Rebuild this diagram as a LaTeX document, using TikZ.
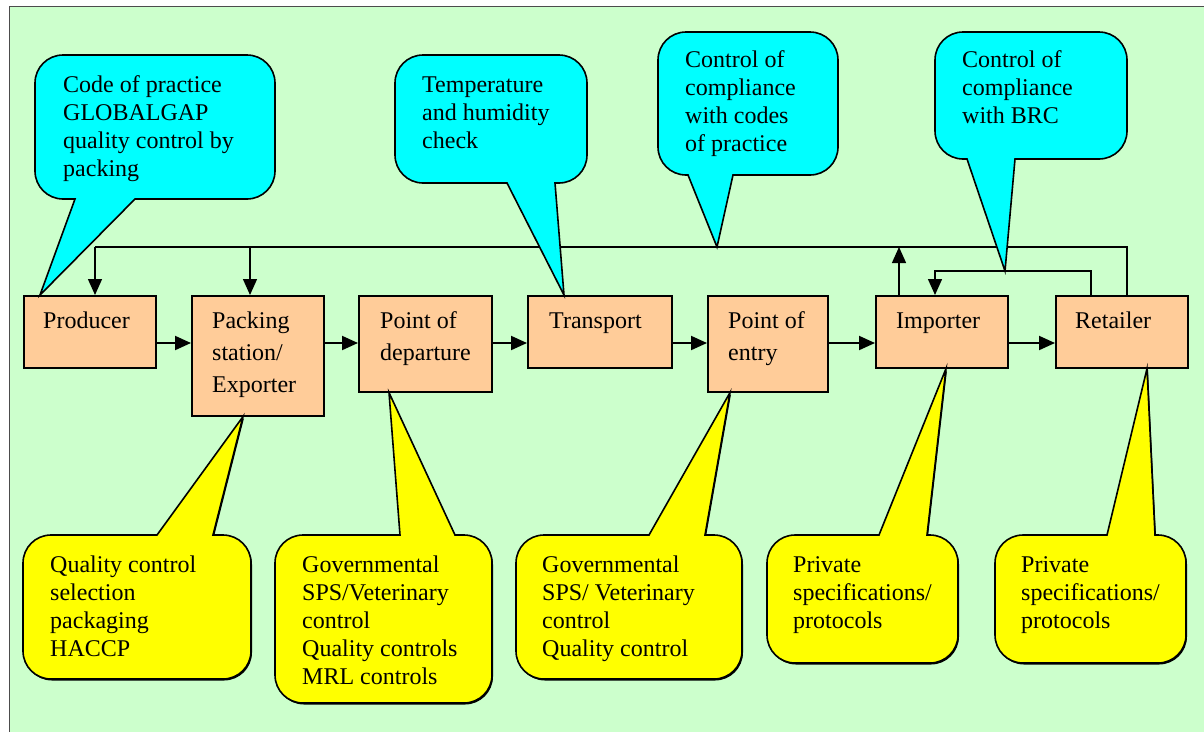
\documentclass[tikz,border=0pt]{standalone}
\usepackage{fontspec}
\setmainfont{Liberation Serif}
\usetikzlibrary{arrows.meta, shadows}
\definecolor{bggreen}{HTML}{CCFFCC}
\definecolor{boxorange}{HTML}{FFCC99}
\definecolor{callcyan}{HTML}{00FFFF}
\definecolor{callyellow}{HTML}{FFFF00}

% text lines, baseline on the first line
\newcommand{\lines}[1]{\begin{tabular}[t]{@{}l@{}}#1\end{tabular}}
% callout with the pointer on the lower edge: left, top, right, bottom, base from, base to, tip
\newcommand{\cyancallout}[7]{%
  \draw[cyancall] (#5,#4) -- #7 -- (#6,#4) -- ({#3-28},#4)
    arc[start angle=90, end angle=0, radius=28] -- (#3,{#2+28})
    arc[start angle=0, end angle=-90, radius=28] -- ({#1+28},#2)
    arc[start angle=-90, end angle=-180, radius=28] -- (#1,{#4-28})
    arc[start angle=180, end angle=90, radius=28] -- cycle;}
% callout with the pointer on the upper edge
\newcommand{\yellowcallout}[7]{%
  \draw[yellowcall] (#6,#2) -- #7 -- (#5,#2) -- ({#1+28},#2)
    arc[start angle=-90, end angle=-180, radius=28] -- (#1,{#4-28})
    arc[start angle=180, end angle=90, radius=28] -- ({#3-28},#4)
    arc[start angle=90, end angle=0, radius=28] -- (#3,{#2+28})
    arc[start angle=0, end angle=-90, radius=28] -- cycle;}

\begin{document}
\begin{tikzpicture}[x=1pt, y=-1pt, >={Triangle[length=16pt, width=14pt]},
    stage/.style={draw, fill=boxorange, line width=1.6pt, inner sep=0pt, anchor=north west},
    stagetext/.style={anchor=base west, inner sep=0pt, font=\fontsize{24}{32}\selectfont},
    calltext/.style={anchor=base west, inner sep=0pt, font=\fontsize{24}{28}\selectfont},
    flow/.style={->, line width=2pt},
    feedback/.style={line width=1.4pt},
    cyancall/.style={draw, fill=callcyan, line width=1.6pt},
    yellowcall/.style={draw, fill=callyellow, line width=1.6pt,
      drop shadow={shadow xshift=1pt, shadow yshift=-1.5pt, opacity=1, fill=black}}]

    \useasboundingbox (0,0) rectangle (1204,732);
    \fill[bggreen] (9,6) rectangle (1204,732);
    \draw[line width=1pt, black!70] (1204,6) -- (9,6) -- (9,732);

    % Stages of the chain
    \node[stage, minimum width=132, minimum height=72] (prod) at (23,295) {};
    \node[stage, minimum width=132, minimum height=120] (pack) at (191,295) {};
    \node[stage, minimum width=133, minimum height=96] (dep) at (358,295) {};
    \node[stage, minimum width=144, minimum height=72] (trans) at (527,295) {};
    \node[stage, minimum width=120, minimum height=96] (entry) at (707,295) {};
    \node[stage, minimum width=132, minimum height=72] (imp) at (875,295) {};
    \node[stage, minimum width=132, minimum height=72] (ret) at (1055,295) {};

    \node[stagetext] (prodtxt) at ([shift={(20,33)}]prod.north west) {Producer};
    \node[stagetext] (packtxt) at ([shift={(21,33)}]pack.north west) {\lines{Packing\\station/\\Exporter}};
    \node[stagetext] (deptxt) at ([shift={(22,33)}]dep.north west) {\lines{Point of\\departure}};
    \node[stagetext] (transtxt) at ([shift={(22,33)}]trans.north west) {Transport};
    \node[stagetext] (entrytxt) at ([shift={(21,33)}]entry.north west) {\lines{Point of\\entry}};
    \node[stagetext] (imptxt) at ([shift={(21,33)}]imp.north west) {Importer};
    \node[stagetext] (rettxt) at ([shift={(20,33)}]ret.north west) {Retailer};

    % --- flow of the product ---
    \coordinate (row) at (0,343);
    \draw[flow] (prod.east |- row) -- (pack.west |- row);
    \draw[flow] (pack.east |- row) -- (dep.west |- row);
    \draw[flow] (dep.east |- row) -- (trans.west |- row);
    \draw[flow] (trans.east |- row) -- (entry.west |- row);
    \draw[flow] (entry.east |- row) -- (imp.west |- row);
    \draw[flow] (imp.east |- row) -- (ret.west |- row);

    % --- feedback lines ---
    \coordinate (fbL) at (95,247);
    \coordinate (fbP) at (250,247);
    \coordinate (fbI) at (899,247);
    \coordinate (fbR) at (1127,247);
    \coordinate (lpL) at (935,271);
    \coordinate (lpR) at (1091,271);
    \draw[feedback] (fbR |- ret.north) -- (fbR) -- (fbL);
    \draw[feedback, ->] (fbL) -- (fbL |- prod.north);
    \draw[feedback, ->] (fbP) -- (fbP |- pack.north);
    \draw[feedback, ->] (fbI |- imp.north) -- (fbI);
    \draw[feedback, ->] (lpR |- ret.north) -- (lpR) -- (lpL) -- (lpL |- imp.north);

    % Controls above the chain
    \cyancallout{35}{55}{275}{199}{75}{135}{([xshift=17pt]prod.north west)}
    \cyancallout{395}{55}{587}{183}{507}{555}{([xshift=37pt]trans.north west)}
    \cyancallout{658}{32}{838}{175}{688}{733}{(717,247)}
    \cyancallout{935}{32}{1127}{159}{967}{1015}{(1005,271)}
    \node[calltext] (gap) at (63,92) {\lines{Code of practice\\GLOBALGAP\\quality control by\\packing}};
    \node[calltext] (climate) at (422,92) {\lines{Temperature\\and humidity\\check}};
    \node[calltext] (codes) at (685,67) {\lines{Control of\\compliance\\with codes\\of practice}};
    \node[calltext] (brc) at (962,67) {\lines{Control of\\compliance\\with BRC}};

    % Controls below the chain
    \yellowcallout{23}{535}{251}{679}{157}{213}{([xshift=52pt]pack.south west)}
    \yellowcallout{275}{535}{492}{703}{400}{455}{([xshift=31pt]dep.south west)}
    \yellowcallout{516}{535}{742}{679}{649}{705}{([xshift=23pt]entry.south west)}
    \yellowcallout{767}{535}{958}{663}{879}{927}{([xshift=71pt]imp.south west)}
    \yellowcallout{995}{535}{1186}{663}{1107}{1155}{([xshift=92pt]ret.south west)}
    \node[calltext] (qual) at (50,572) {\lines{Quality control\\selection\\packaging\\HACCP}};
    \node[calltext] (govdep) at (302,572) {\lines{Governmental\\SPS/Veterinary\\control\\Quality controls\\MRL controls}};
    \node[calltext] (goventry) at (542,572) {\lines{Governmental\\SPS/ Veterinary\\control\\Quality control}};
    \node[calltext] (privimp) at (793,572) {\lines{Private\\specifications/\\protocols}};
    \node[calltext] (privret) at (1021,572) {\lines{Private\\specifications/\\protocols}};
\end{tikzpicture}
\end{document}
